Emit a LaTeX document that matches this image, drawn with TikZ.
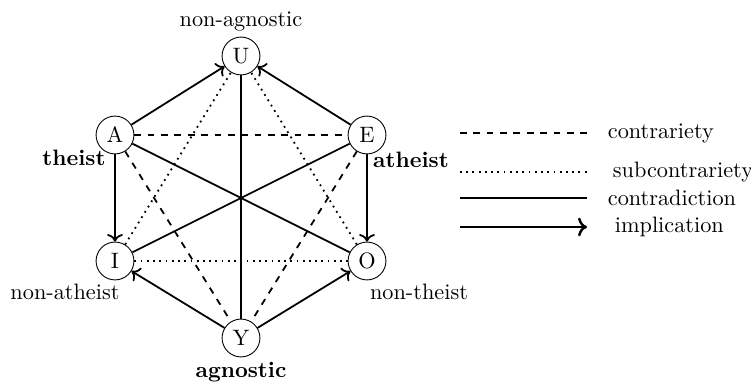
\documentclass[tikz,border=0pt]{standalone}
\usetikzlibrary{arrows.meta,positioning}
\tikzset{
  vertex/.style={draw, circle, thin, minimum size=17pt, inner sep=0pt},
  contrary/.style={thick, dashed},
  subcontrary/.style={thick, dotted},
  contradict/.style={thick},
  implies/.style={thick, ->},
  keyline/.style={line width=1.1pt},
  label/.style={inner sep=2pt}
}
\begin{document}
\begin{tikzpicture}[x=0.449pt, y=-0.449pt]
  \useasboundingbox (0,0) rectangle (751,384);
  % hexagon vertices
  \node[vertex] (U) at (241,56) {U};
  \node[vertex] (A) at (115,135) {A};
  \node[vertex] (E) at (367,135) {E};
  \node[vertex] (I) at (115,261) {I};
  \node[vertex] (O) at (367,261) {O};
  \node[vertex] (Y) at (241,338) {Y};
  % names of the vertices
  \node[label] (nonagnostic) at (241,21) {non-agnostic};
  \node[label] (theist) at (74,158) {\textbf{theist}};
  \node[label] (atheist) at (411,160) {\textbf{atheist}};
  \node[label] (nonatheist) at (65,292) {non-atheist};
  \node[label] (nontheist) at (419,292) {non-theist};
  \node[label] (agnostic) at (241,372) {\textbf{agnostic}};
  % relations
  \draw[contrary] (A) -- (E);
  \draw[contrary] (A) -- (Y);
  \draw[contrary] (E) -- (Y);
  \draw[subcontrary] (I) -- (O);
  \draw[subcontrary] (I) -- (U);
  \draw[subcontrary] (O) -- (U);
  \draw[contradict] (U) -- (Y);
  \draw[contradict] (A) -- (O);
  \draw[contradict] (E) -- (I);
  \draw[implies] (A) -- (U);
  \draw[implies] (E) -- (U);
  \draw[implies] (A) -- (I);
  \draw[implies] (E) -- (O);
  \draw[implies] (Y) -- (I);
  \draw[implies] (Y) -- (O);
  % legend
  \coordinate (k1a) at (460,133); \coordinate (k1b) at (587,133);
  \coordinate (k2a) at (460,172); \coordinate (k2b) at (587,172);
  \coordinate (k3a) at (460,198); \coordinate (k3b) at (587,198);
  \coordinate (k4a) at (460,227); \coordinate (k4b) at (587,227);
  \draw[contrary, keyline] (k1a) -- (k1b);
  \draw[subcontrary, keyline] (k2a) -- (k2b);
  \draw[contradict, keyline] (k3a) -- (k3b);
  \draw[implies, keyline] (k4a) -- (k4b);
  \node[label, anchor=west] (kcontrary) at (603,133) {contrariety};
  \node[label, anchor=west] (ksubcontrary) at (608,172) {subcontrariety};
  \node[label, anchor=west] (kcontradict) at (603,198) {contradiction};
  \node[label, anchor=west] (kimplies) at (610,227) {implication};
\end{tikzpicture}
\end{document}
